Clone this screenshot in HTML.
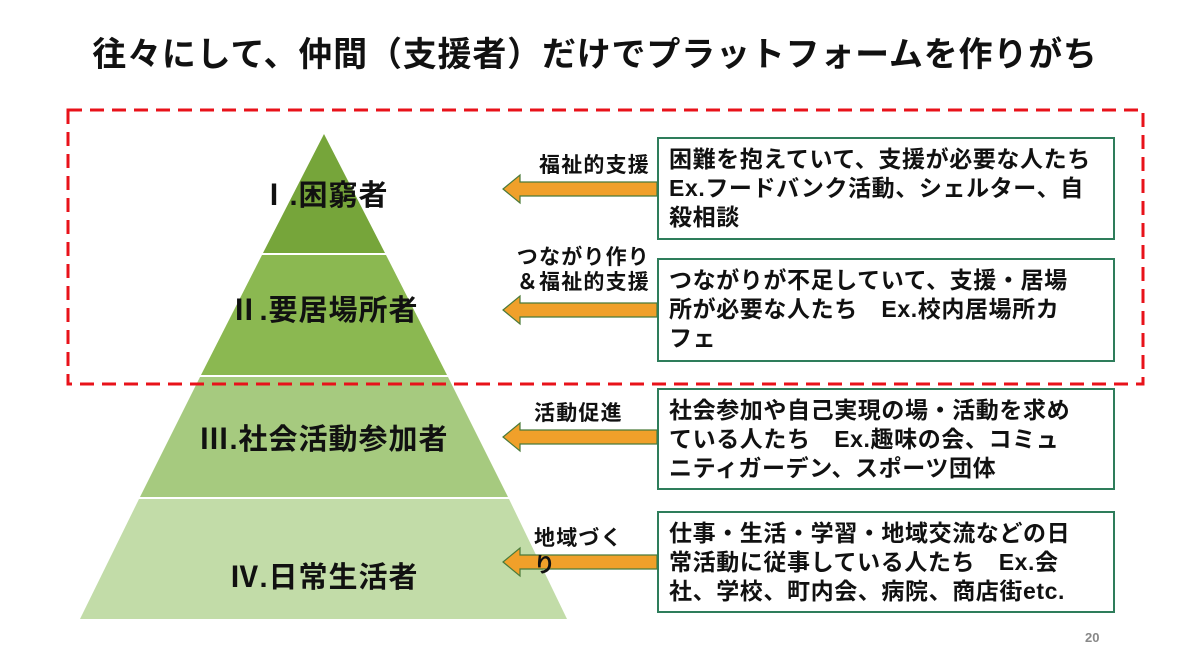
<!DOCTYPE html>
<html><head><meta charset="utf-8"><style>
body{margin:0;width:1190px;height:664px;background:#fff;position:relative;overflow:hidden;font-family:"Liberation Sans","Noto Sans CJK JP",sans-serif;font-weight:bold;color:#111}
.t{position:absolute;white-space:nowrap}
.box{position:absolute;left:657px;width:458px;border:2px solid #2e7d5b;background:#fff;font-size:23px;line-height:29px;padding:6px 0 0 10px;box-sizing:border-box;letter-spacing:0.6px;white-space:nowrap}
.lab{position:absolute;font-size:21px;line-height:25px;text-align:right;letter-spacing:1.2px;white-space:nowrap}
.pl{position:absolute;font-size:29px;text-align:center;width:400px;letter-spacing:1px;white-space:nowrap}
</style></head><body>
<div class="t" style="left:0;width:1190px;text-align:center;top:27px;font-size:34px;letter-spacing:0.8px">往々にして、仲間（支援者）だけでプラットフォームを作りがち</div>
<svg width="1190" height="664" style="position:absolute;left:0;top:0">
<polygon points="324,134 385,253 263,253" fill="#76a53a"/>
<polygon points="262,255 386,255 447,375 201,375" fill="#8bb851"/>
<polygon points="200,377 448,377 508,497 140,497" fill="#a6ca7f"/>
<polygon points="139,499 509,499 567,619 80,619" fill="#c2dca8"/>
<rect x="68" y="110" width="1075" height="274" fill="none" stroke="#e8121a" stroke-width="3" stroke-dasharray="14,8"/>
<g fill="#f0a02a" stroke="#4a7a3a" stroke-width="1.2">
<polygon points="657,182 520,182 520,175 503,189 520,203 520,196 657,196"/>
<polygon points="657,303 520,303 520,296 503,310 520,324 520,317 657,317"/>
<polygon points="657,430 520,430 520,423 503,437 520,451 520,444 657,444"/>
<polygon points="657,555 520,555 520,548 503,562 520,576 520,569 657,569"/>
</g>
</svg>
<div class="pl" style="left:124px;top:172px">Ⅰ.困窮者</div>
<div class="pl" style="left:124px;top:287px">Ⅱ.要居場所者</div>
<div class="pl" style="left:124px;top:416px">Ⅲ.社会活動参加者</div>
<div class="pl" style="left:124px;top:554px">Ⅳ.日常生活者</div>
<div class="lab" style="left:500px;width:150px;top:153px">福祉的支援</div>
<div class="lab" style="left:490px;width:160px;top:245px">つながり作り<br>＆福祉的支援</div>
<div class="lab" style="left:534px;top:401px;text-align:left">活動促進</div>
<div class="lab" style="left:534px;top:525px;text-align:left;line-height:27px">地域づく<br>り</div>
<div class="box" style="top:137px;height:103px">困難を抱えていて、支援が必要な人たち<br>Ex.フードバンク活動、シェルター、自<br>殺相談</div>
<div class="box" style="top:258px;height:104px">つながりが不足していて、支援・居場<br>所が必要な人たち　Ex.校内居場所カ<br>フェ</div>
<div class="box" style="top:388px;height:102px">社会参加や自己実現の場・活動を求め<br>ている人たち　Ex.趣味の会、コミュ<br>ニティガーデン、スポーツ団体</div>
<div class="box" style="top:511px;height:102px">仕事・生活・学習・地域交流などの日<br>常活動に従事している人たち　Ex.会<br>社、学校、町内会、病院、商店街etc.</div>
<div class="t" style="left:1085px;top:630px;font-size:13px;color:#888">20</div>
</body></html>
